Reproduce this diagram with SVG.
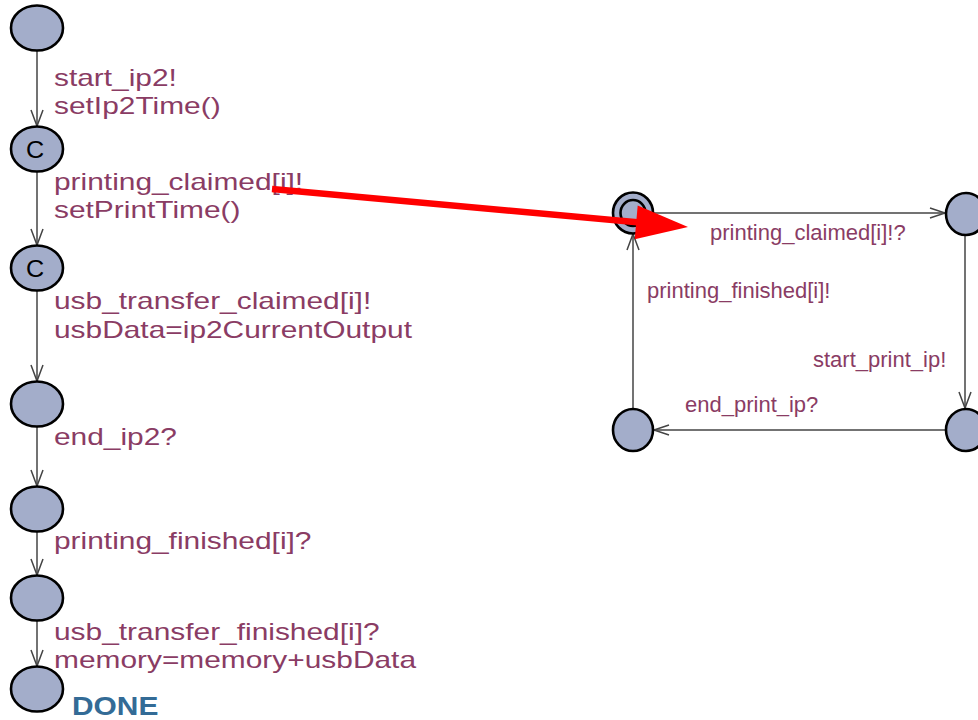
<svg xmlns="http://www.w3.org/2000/svg" width="978" height="720" viewBox="0 0 978 720">
<style>
.node{fill:#a3adca;stroke:#000;stroke-width:2.6}
.edge{stroke:#444;stroke-width:1.5;fill:none}
.lbl{font-family:"Liberation Sans",Arial,sans-serif;font-size:23px;fill:#8a3c64}
.rlbl{font-family:"Liberation Sans",Arial,sans-serif;font-size:22px;fill:#8a3c64}
.com{font-family:"Liberation Sans",Arial,sans-serif;font-size:24px;fill:#000;text-anchor:middle}
.name{font-family:"Liberation Sans",Arial,sans-serif;font-size:26px;font-weight:bold;fill:#336b96}
</style>
<rect width="978" height="720" fill="#fff"/>
<g id="connectors">
  <line class="edge" x1="37" y1="51" x2="37" y2="126"/><polyline class="edge" points="31,110 37,126 43,110"/>
  <line class="edge" x1="37" y1="171" x2="37" y2="245"/><polyline class="edge" points="31,229 37,245 43,229"/>
  <line class="edge" x1="37" y1="290" x2="37" y2="381"/><polyline class="edge" points="31,365 37,381 43,365"/>
  <line class="edge" x1="37" y1="426" x2="37" y2="486"/><polyline class="edge" points="31,470 37,486 43,470"/>
  <line class="edge" x1="37" y1="531" x2="37" y2="575"/><polyline class="edge" points="31,559 37,575 43,559"/>
  <line class="edge" x1="37" y1="620" x2="37" y2="666"/><polyline class="edge" points="31,650 37,666 43,650"/>
  <line class="edge" x1="653" y1="213" x2="945" y2="213"/><polyline class="edge" points="930,208 945,213 930,218"/>
  <line class="edge" x1="965" y1="235" x2="965" y2="408"/><polyline class="edge" points="959,392 965,408 971,392"/>
  <line class="edge" x1="945" y1="430" x2="654" y2="430"/><polyline class="edge" points="669,425 654,430 669,435"/>
  <line class="edge" x1="633" y1="409" x2="633" y2="234"/><polyline class="edge" points="627,250 633,234 639,250"/>
</g>
<g id="labels">
  <text class="lbl" transform="translate(54 86) scale(1.3 1)">start_ip2!</text>
  <text class="lbl" transform="translate(54 114) scale(1.3 1)">setIp2Time()</text>
  <text class="lbl" transform="translate(54 190) scale(1.3 1)">printing_claimed[i]!</text>
  <text class="lbl" transform="translate(54 218) scale(1.3 1)">setPrintTime()</text>
  <text class="lbl" transform="translate(54 309) scale(1.3 1)">usb_transfer_claimed[i]!</text>
  <text class="lbl" transform="translate(54 338) scale(1.3 1)">usbData=ip2CurrentOutput</text>
  <text class="lbl" transform="translate(54 445) scale(1.3 1)">end_ip2?</text>
  <text class="lbl" transform="translate(54 549) scale(1.3 1)">printing_finished[i]?</text>
  <text class="lbl" transform="translate(54 640) scale(1.3 1)">usb_transfer_finished[i]?</text>
  <text class="lbl" transform="translate(54 668) scale(1.3 1)">memory=memory+usbData</text>
  <text class="rlbl" x="710" y="240">printing_claimed[i]!?</text>
  <text class="rlbl" x="647" y="298">printing_finished[i]!</text>
  <text class="rlbl" x="813" y="367">start_print_ip!</text>
  <text class="rlbl" x="685" y="412">end_print_ip?</text>
</g>
<g id="n1"><ellipse class="node" cx="37" cy="28" rx="26" ry="22.5"/></g>
<g id="n2"><ellipse class="node" cx="37" cy="149" rx="26" ry="22.5"/><text class="com" transform="translate(35 158) scale(1.05 1)">C</text></g>
<g id="n3"><ellipse class="node" cx="37" cy="268" rx="26" ry="22.5"/><text class="com" transform="translate(35 277) scale(1.05 1)">C</text></g>
<g id="n4"><ellipse class="node" cx="37" cy="404" rx="26" ry="22.5"/></g>
<g id="n5"><ellipse class="node" cx="37" cy="509" rx="26" ry="22.5"/></g>
<g id="n6"><ellipse class="node" cx="37" cy="598" rx="26" ry="22.5"/></g>
<g id="n7"><ellipse class="node" cx="37" cy="689" rx="26" ry="22.5"/><text class="name" transform="translate(72 715) scale(1.15 1)">DONE</text></g>
<g id="r1"><ellipse class="node" cx="633" cy="213" rx="20" ry="20.5"/><ellipse class="node" cx="633" cy="213" rx="12.5" ry="13"/></g>
<g id="r2"><ellipse class="node" cx="966" cy="214" rx="20" ry="21"/></g>
<g id="r3"><ellipse class="node" cx="966" cy="430" rx="20" ry="21"/></g>
<g id="r4"><ellipse class="node" cx="633" cy="430" rx="20" ry="21"/></g>
<g id="annotation">
  <line x1="272" y1="189" x2="640" y2="222.5" stroke="#ff0000" stroke-width="6.5"/>
  <polygon points="688,227 637.7,205.4 634.7,239.2" fill="#ff0000"/>
</g>
</svg>
